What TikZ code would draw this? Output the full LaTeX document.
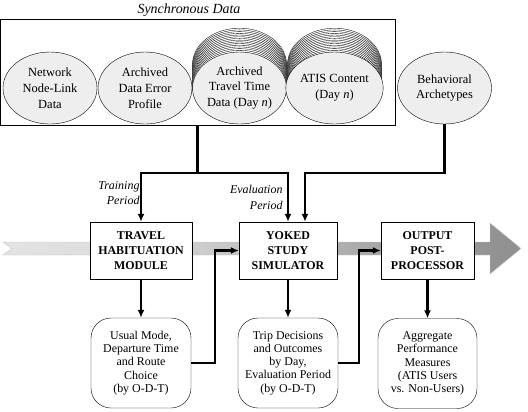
\documentclass[tikz,border=0pt]{standalone}
\usepackage{fontspec}
\setmainfont{Liberation Serif}
\usetikzlibrary{arrows.meta}
\usetikzlibrary{shapes.geometric}
\definecolor{lgrey}{RGB}{238,238,238}
\definecolor{flowA}{RGB}{246,246,246}
\definecolor{flowB}{RGB}{218,218,218}
\definecolor{flowC}{RGB}{158,158,158}
\definecolor{flowD}{RGB}{106,106,106}
\pgfdeclarehorizontalshading{flowshade}{100bp}{color(0bp)=(flowA); color(38bp)=(flowB); color(65bp)=(flowC); color(100bp)=(flowD)}

\begin{document}
\begin{tikzpicture}[x=1bp,y=-1bp,>={Latex[length=8bp,width=7bp]}]
      \tikzstyle{source}=[ellipse,draw=black,fill=lgrey,minimum width=94bp,minimum height=72bp,inner sep=0pt,align=center,font=\fontsize{12.5}{16}\selectfont]
      \tikzstyle{stage}=[rectangle,draw=black,fill=white,minimum height=57bp,inner sep=1pt,align=center,font=\bfseries\fontsize{12}{15}\selectfont]
      \tikzstyle{result}=[rectangle,rounded corners=20bp,draw=black,fill=white,minimum width=100bp,minimum height=90bp,inner sep=1pt,align=center,font=\fontsize{12}{13.3}\selectfont]
      \tikzstyle{note}=[align=right,font=\itshape\fontsize{12}{15.5}\selectfont]
      \tikzstyle{flow}=[->,line width=2.4bp]
      \useasboundingbox (0,0) rectangle (528,411);

      % main flow arrow behind the modules
      \shade[shading=flowshade,draw=gray!45,line width=0.4bp] (3,242) -- (490,242) -- (490,223) -- (521,248.5)
        -- (490,274) -- (490,255) -- (3,255) -- (12,248.5) -- cycle;

      % data sources
      \node[draw=black,minimum width=395bp,minimum height=106bp,inner sep=0pt] (sync) at (197.5,72) {};
      \node[font=\itshape\fontsize{14}{16}\selectfont] (synclbl) at (189,10) {Synchronous Data};
      \foreach \cx in {239.5,334.5}
        \foreach \k in {14,...,1}
          \draw[fill=white,line width=0.35bp] (\cx,88-1.7*\k) ellipse [x radius=47,y radius=36];
      \node[source] (netw) at (50,88) {Network\\Node-Link\\Data};
      \node[source] (errp) at (145,88) {Archived\\Data Error\\Profile};
      \node[source] (ttime) at (239.5,88) {Archived\\Travel Time\\Data (Day \textit{n})};
      \node[source] (atis) at (334.5,88) {ATIS Content\\(Day \textit{n})};
      \node[source] (behav) at (444.5,88) {Behavioral\\Archetypes};

      % modules
      \node[stage,minimum width=102bp] (thm) at (141,250.5) {TRAVEL\\HABITUATION\\MODULE};
      \node[stage,minimum width=98bp] (yss) at (288,250.5) {YOKED\\STUDY\\SIMULATOR};
      \node[stage,minimum width=93bp] (opp) at (427.5,250.5) {OUTPUT\\POST-\\PROCESSOR};

      % outputs
      \node[result] (usual) at (141,363) {Usual Mode,\\Departure Time\\and Route\\Choice\\(by O-D-T)};
      \node[result] (trip) at (288,363) {Trip Decisions\\and Outcomes\\by Day,\\Evaluation Period\\(by O-D-T)};
      \node[result,minimum width=99bp] (agg) at (427.5,363.5) {Aggregate\\Performance\\Measures\\(ATIS Users\\vs. Non-Users)};

      \node[note,anchor=east] (train) at (143,193) {Training\\Period};
      \node[note,anchor=east] (eval) at (286,197.5) {Evaluation\\Period};

      \draw[flow,-] (sync.south) -- ++(0,48) coordinate (split);
      \draw[flow] (split) -| (thm.north);
      \draw[flow] (split) -| (yss.north);
      \draw[flow] (behav.south) -- ++(0,49) -| ([xshift=17bp]yss.north);
      \draw[flow] (usual.east) -- ++(24,0) |- (yss.west);
      \draw[flow] (trip.east) -- ++(21,0) |- (opp.west);

      \path[flow]
	(thm) edge	(usual)
	(yss) edge	(trip)
	(opp) edge	(agg);
\end{tikzpicture}
\end{document}
